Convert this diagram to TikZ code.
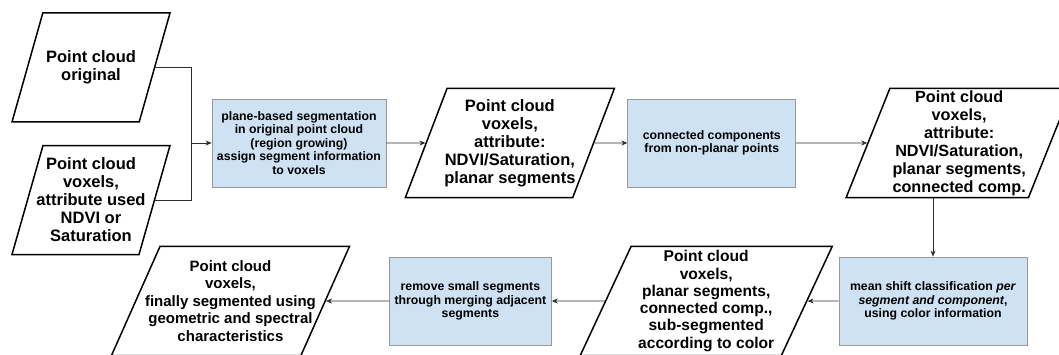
\documentclass[tikz,border=0pt]{standalone}
\usepackage{fontspec}
\setmainfont{Liberation Sans}
\usetikzlibrary{shapes.geometric, arrows.meta, positioning}
\definecolor{boxblue}{RGB}{207,226,243}
\definecolor{boxedge}{RGB}{153,153,153}
\definecolor{lineGray}{RGB}{45,45,45}
\tikzset{
  datanode/.style={trapezium,trapezium left angle=70,trapezium right angle=110,trapezium stretches body,
    draw=black,line width=1.5pt,align=center,inner ysep=0pt,inner xsep=-20pt,
    font=\fontsize{16.5}{18}\selectfont\bfseries,minimum height=109pt},
  procnode/.style={rectangle,fill=boxblue,draw=boxedge,line width=0.8pt,align=center,
    font=\fontsize{12.3}{13.5}\selectfont\bfseries,minimum height=88pt},
  arr/.style={-{Stealth[length=6pt,width=5pt]},line width=0.8pt,color=lineGray},
  plainline/.style={line width=0.8pt,color=lineGray}
}

\begin{document}
\begin{tikzpicture}[x=1pt,y=1pt]
  \clip (0,0) rectangle (1059,354);
  \node[datanode,minimum width=158pt,inner ysep=37pt,trapezium left angle=74,trapezium right angle=106] (orig) at (91,286.5) {Point cloud\\original};
  \node[datanode,minimum width=158pt,inner ysep=12pt,trapezium left angle=74,trapezium right angle=106,below=22pt of orig] (attr) {Point cloud\\voxels,\\attribute used\\NDVI or\\Saturation};
  \node[procnode,minimum width=174pt] (plane) at (299,211) {plane-based segmentation\\in original point cloud\\(region growing)\\assign segment information\\to voxels};
  \node[datanode,minimum width=209pt,inner ysep=10.5pt,trapezium left angle=69,trapezium right angle=111,right=39pt of plane] (planar) {Point cloud\\voxels,\\attribute:\\NDVI/Saturation,\\planar segments};
  \node[procnode,minimum width=168pt,right=33pt of planar] (concomp) {connected components\\from non-planar points};
  \node[datanode,minimum width=226pt,inner ysep=1.5pt,font=\fontsize{16.2}{18}\selectfont\bfseries,trapezium left angle=68,trapezium right angle=112,right=71pt of concomp] (conn) {Point cloud\\voxels,\\attribute:\\NDVI/Saturation,\\planar segments,\\connected comp.};
  \node[procnode,minimum width=188pt] (meanshift) at (933,53) {mean shift classification \textit{per}\\\textit{segment and component},\\using color information};
  \node[datanode,minimum width=252pt,inner ysep=4pt,font=\fontsize{15.6}{17.3}\selectfont\bfseries,trapezium left angle=65,trapezium right angle=115,left=31pt of meanshift] (subseg) {Point cloud\\voxels,\\planar segments,\\connected comp.,\\sub-segmented\\according to color};
  \node[procnode,minimum width=162pt,left=53pt of subseg] (merge) {remove small segments\\through merging adjacent\\segments};
  \node[datanode,minimum width=238pt,inner ysep=14pt,font=\fontsize{15}{17.5}\selectfont\bfseries,trapezium left angle=66,trapezium right angle=114,left=63pt of merge] (final) {Point cloud\\voxels,\\finally segmented using\\geometric and spectral\\characteristics};

  \coordinate[left=20pt of plane.west] (join);
  \draw[plainline] (orig.east) -| (join); \draw[plainline] (attr.east) -| (join);
  \draw[arr] (join) -- (plane.west);
  \draw[arr] (plane) -- (planar); \draw[arr] (planar) -- (concomp); \draw[arr] (concomp) -- (conn);
  \draw[arr] (conn.south -| meanshift.north) -- (meanshift.north);
  \draw[arr] (meanshift) -- (subseg); \draw[arr] (subseg) -- (merge); \draw[arr] (merge) -- (final);
\end{tikzpicture}
\end{document}
